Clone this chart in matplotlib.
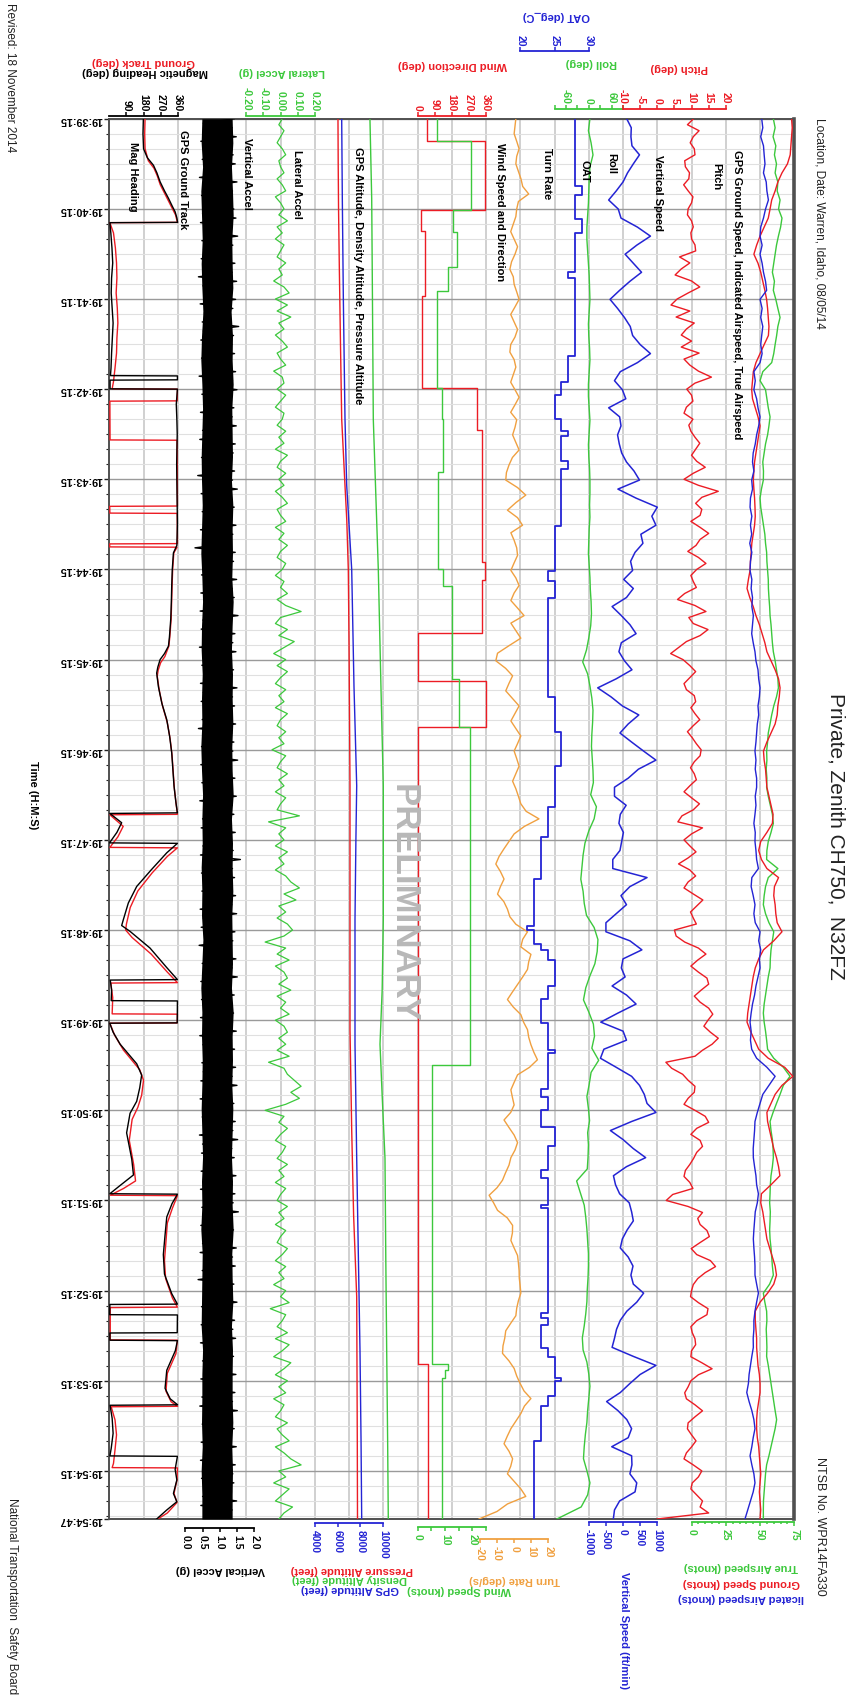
import numpy as np
import matplotlib
matplotlib.use("Agg")
import matplotlib.pyplot as plt

plt.rcParams['font.family'] = ['Liberation Sans', 'DejaVu Sans']

# ======================= DATA (time in s after 19:39:15) =======================
T_END = 932
time_labels = ['19:%02d:15' % (39 + m) for m in range(16)] + ['19:54:47']
time_ticks = [60 * m for m in range(16)] + [T_END]

# Magnetic heading (deg) and GPS ground track (deg)
mag_t = [0, 10, 20, 26, 31, 36, 42, 48, 53, 58, 62, 66, 69, 69.2, 76, 86, 96, 106, 116, 126, 136, 146, 156, 166, 171,
         171.2, 173.8, 174, 179.8, 180, 190, 200, 210, 230, 250, 270, 284, 289, 300, 311, 322, 333, 345, 351, 356, 360,
         365, 369, 378, 389, 400, 411, 422, 433, 444, 455, 462, 462.4, 468.6, 475, 482, 482.3, 488.6, 500, 511, 522,
         533, 537, 541, 552, 565, 573, 573.3, 580, 587, 587.2, 601.8, 602, 608, 616, 629, 636.5, 645, 654, 662, 675,
         692.5, 703, 710, 715.5, 715.8, 722, 731, 743, 756, 769, 782, 789, 789.2, 796, 796.2, 808, 808.2, 813, 813.3,
         820, 833, 845, 852, 856, 856.3, 865, 875, 885, 890, 890.3, 899, 906, 915, 920.5, 926, 932]
mag_v = [179, 177, 180, 200, 232, 250, 267, 290, 311, 330, 346, 355, 359, 3, 8, 14, 18, 12, 10, 15, 20, 16, 12, 9, 6,
         358, 358, 4, 4, 358, 352, 355, 357, 354, 356, 358, 355, 337, 331, 328, 326, 323, 316, 311, 290, 267,
         255, 249, 258, 276, 302, 317, 328, 334, 340, 350, 358, 3, 65, 40, 1, 358, 302, 220, 144, 100,
         74, 65, 110, 214, 302, 358, 5, 12, 10, 358, 357, 2, 20, 57, 144, 170, 160, 144, 109, 91,
         118, 127, 57, 3, 358, 330, 302, 293, 284, 290, 328, 358, 3, 2, 358, 357, 3, 3, 358,
         347, 302, 293, 320, 359, 4, 15, 20, 10, 3, 358, 346, 355, 337, 355, 302, 249]
trk_t = [0, 10, 20, 28, 33, 38, 44, 50, 55, 60, 64, 68, 69, 69.2, 76, 86, 96, 106, 116, 126, 136, 146, 156, 166, 175,
         179.8, 180, 187.8, 188, 213.8, 214, 230, 257.8, 258, 262.5, 262.7, 282.8, 283, 285, 285.2, 289, 300, 311, 333,
         345, 351, 358, 362, 367, 371, 380, 391, 402, 413, 424, 435, 446, 457, 463, 463.3, 471, 478, 485, 485.3, 491,
         502, 514, 525, 536, 540, 545, 556, 568, 575, 575.3, 585, 595.8, 596, 601.8, 602, 610, 620, 633, 640, 650, 658,
         666, 680, 696, 707, 712, 716.5, 716.8, 725, 735, 747, 760, 772, 785, 791, 791.3, 812.8, 813, 822, 835, 847,
         854, 857, 857.3, 866, 876, 886, 895, 897.8, 898, 906, 915, 921, 928, 932]
trk_v = [188, 186, 188, 205, 235, 252, 268, 292, 312, 332, 348, 356, 359, 3, 22, 32, 38, 40, 36, 42, 45, 40, 38, 30, 22,
         15, 358, 357, 3, 4, 356, 357, 358, 2, 3, 357, 358, 2, 2, 356, 339, 333, 330, 325,
         318, 313, 292, 270, 257, 252, 262, 280, 305, 320, 330, 336, 342, 352, 358, 3, 73, 45, 3, 358, 305,
         225, 150, 110, 90, 86, 120, 220, 305, 358, 8, 18, 15, 358, 357, 3, 28, 75, 160, 180, 170, 150,
         120, 105, 128, 138, 75, 5, 358, 332, 305, 298, 290, 296, 332, 358, 5, 5, 358, 350, 305, 298,
         325, 359, 10, 30, 38, 30, 22, 15, 358, 356, 340, 356, 305, 255]

# Vertical acceleration (hundredths of g), evenly spaced over the record
vacc_cg = [142, 52, 136, 58, 148, 45, 131, 55, 139, 49, 145, 60, 133, 41, 150, 54, 137, 47, 129, 57,
           141, 50, 147, 44, 134, 59, 152, 48, 138, 53, 130, 46, 144, 56, 136, 38, 149, 51, 132, 58,
           146, 43, 138, 55, 131, 49, 155, 52, 140, 45, 135, 57, 143, 47, 129, 53, 146, 40, 137, 56,
           150, 48, 133, 60, 141, 44, 136, 54, 148, 50, 132, 42, 145, 55, 139, 47, 130, 58, 143, 36,
           137, 53, 151, 46, 134, 57, 142, 49, 129, 55, 147, 44, 138, 52, 133, 28, 145, 50, 140, 58,
           131, 47, 149, 54, 136, 45, 142, 59, 135, 43, 153, 51, 130, 46, 144, 56, 138, 41, 147, 53,
           134, 48, 140, 57, 132, 44, 150, 52, 137, 46, 143, 55, 129, 49, 146, 38, 135, 58, 141, 47,
           138, 53, 152, 45, 133, 56, 144, 48, 130, 54, 148, 42, 136, 59, 141, 50, 131, 46, 145, 57,
           134, 51, 139, 44, 160, 53, 137, 47, 143, 55, 130, 48, 146, 57, 135, 43, 149, 52, 132, 46,
           144, 58, 138, 40, 133, 54, 147, 49, 136, 56, 151, 45, 131, 53, 142, 47, 135, 59, 140, 44,
           137, 55, 148, 42, 134, 51, 143, 57, 129, 48, 146, 52, 136, 45, 150, 56, 132, 43, 141, 54,
           133, 49, 145, 58, 138, 41, 152, 50, 135, 47, 142, 56, 130, 46, 147, 53, 136, 44, 144, 59,
           139, 48, 154, 52, 131, 45, 140, 57, 134, 50, 148, 43, 137, 55, 145, 49, 133, 37, 141, 54,
           135, 58, 150, 47, 132, 52, 143, 46, 138, 56, 146, 44, 134, 57, 140, 50, 129, 53, 147, 45,
           131, 59, 144, 48, 137, 42, 151, 55, 136, 49, 142, 53, 133, 46, 148, 57, 130, 44, 145, 51,
           138, 47, 141, 56, 134, 50, 149, 45, 136, 55, 100]
# solid core of the vertical-accel band (hundredths of g), evenly spaced
vacc_core_lo = [48, 46, 50, 45, 47, 49, 46, 48, 51, 47, 45, 48, 50, 48, 46, 47, 49, 47, 45, 48,
                50, 47, 46, 49, 47, 48, 45, 47, 50, 48, 49, 46, 48, 47, 51, 48, 45, 48, 47, 49,
                48, 46, 48, 50, 47, 48, 45, 49, 48, 47, 46, 50, 48, 48, 47, 49, 46, 48, 48]
vacc_core_hi = [136, 138, 134, 137, 139, 135, 136, 138, 133, 137, 136, 139, 135, 136, 137, 134, 138, 136, 137, 135,
                139, 136, 134, 137, 136, 138, 135, 136, 139, 134, 137, 136, 138, 135, 136, 137, 134, 139, 136, 137,
                135, 138, 136, 134, 137, 136, 139, 135, 136, 138, 134, 137, 136, 136, 138, 135, 137, 136, 136]

# Lateral acceleration (hundredths of g), every 4 s
lat_cg = [1, -1, 2, 0, -2, 1, 3, -1, 0, 2, -2, 1, 3, -3, 0, 2, -1, 4, -2, 1,
          -3, 2, 0, -2, 3, -1, 1, -4, 2, 5, -3, 4, -2, 6, -1, 2, -3, 1, 4, -2,
          0, 3, -4, 1, 2, -2, 3, 0, -3, 2, 1, -2, 3, -1, 2, -3, 4, 0, -2, 3,
          -1, 2, -3, 1, 4, -2, 0, 3, -3, 2, -1, 4, 0, -2, 3, 1, -3, 2, 0, 4,
          -2, 3, 12, 0, -3, 4, -1, 8, 2, -4, 3, -2, 4, 0, -3, 3, -1, 2, -3, 4,
          0, -2, 3, -1, 2, -5, 3, 0, -2, 4, -1, 2, -3, 3, 0, -2, 11, -7, 3, -1,
          2, -3, 4, -1, 2, -3, 3, 6, 11, 2, 9, -1, 3, -2, 4, 7, 2, -9, 3, -2,
          5, -3, 2, 4, -1, 6, -2, 3, 0, 5, -3, 2, 4, -1, 3, -2, 5, -7, 2, 4,
          8, 12, 6, 11, 3, -9, 2, -1, 4, 0, -3, 3, 1, -2, 4, -1, 2, -3, 3, 0,
          -2, 4, -1, 2, -3, 3, 0, -2, 4, 1, -3, 3, -1, 2, -4, 3, 0, 5, -6, 3,
          1, -2, 4, -3, 5, 1, -4, 6, 2, -3, 4, -1, 3, -4, 2, 0, -3, 4, -2, 1,
          5, -3, 2, 6, 12, -1, 3, -4, 5, 1, -3, 7, 2, -1]

# Altitudes (feet)
press_t = [0, 30, 60, 100, 150, 200, 245, 267, 300, 350, 444, 533, 606, 673, 730, 784, 881, 932]
press_ft = [6030, 6050, 6080, 6150, 6250, 6356, 6650, 6800, 6934, 7000, 7083, 7083, 7083, 7232, 7400, 7670, 7722, 7740]
gps_t = [0, 53, 120, 200, 244, 300, 378, 444, 480, 533, 616, 692, 750, 820, 880, 932]
gps_ft = [6356, 6410, 6500, 6645, 6794, 7232, 7433, 7670, 7600, 7521, 7521, 7670, 7800, 7959, 8050, 8108]
dens_t = [0, 53, 120, 200, 300, 380, 444, 533, 580, 616, 650, 692, 760, 820, 880, 932]
dens_ft = [8830, 8984, 9050, 9124, 9562, 9800, 10000, 10000, 9900, 9711, 9900, 10148, 10220, 10297, 10380, 10437]

# Wind direction (deg) and wind speed (knots), step values from each time on
wdir_t = [0, 14.6, 61, 74.5, 118, 179, 207, 295, 307, 342, 374, 405, 829, 932]
wdir_deg = [48, 355, 18, 37, 22, 311, 337, 354, 337, 4, 360, 4, 55, 55]
wspd_t = [0, 14.6, 61, 75.7, 99, 115, 179, 200, 235, 300, 311, 373, 405, 630, 829, 833, 838, 932]
wspd_kt = [7, 19.5, 13, 14.3, 11.2, 7, 8.8, 9.4, 7.6, 9.4, 12.5, 15.3, 19.2, 5.2, 11.2, 10, 8.8, 8.2]

# Turn rate (deg/s), every ~5 s
turn_dps = [1, 0.5, 0, 1.5, 2.9, 1.5, 1, 2.5, 4, 5, 8.5, 2.5, 1.5, 1, -0.5, -2, 0, 2, 0.5, -1.5,
            -2.5, -0.5, 0, 1.5, 2.9, 0.5, -2, 0, 2, 0.5, -2, -2.5, 0, 1, -0.5, -2, 0.5, 2.9, 0.5, -2,
            1.5, 0.5, -0.9, 1, 2.9, -1, -3, -4.5, -4.9, 2, 6.8, 1, -3.9, 2, 4.9, -1.9, 0, 1.5, 2, 0,
            -1.9, 1, 2.9, 0, -1.9, 2, 5.8, -1.9, 1, 3.9, -3, -9.7, -10.7, -5, -0.9, -3, -4.9, -1, 2.9, 0.5,
            -1.9, 1, 3.9, 2, 0, 1.5, 2.9, 1, -0.9, 1, 2.5, 3.9, 7, 14.5, 6, 0, -3, -6, -8.8, -10.7,
            -8, -5.9, -8, -9.7, -6, -3.9, -2.5, 1, 7.8, 5, 3.9, 9.8, 8.5, 7.8, 5, 2, -1, -3.9, -0.5, 3.9,
            5.5, 7.8, 8.5, 9.8, 11.5, 13.6, 9, 2, 0, -1.9, -1, 0, -2, -5.9, -3, 0, 2, 0.5, -1.9, -3,
            -5, -6.8, -10, -14.6, -12, -9.7, -4, -0.9, -1, -1.9, 0, 2, 2.5, 2.9, 3, 3.5, 3.9, 2.5, 1.5, 1,
            -2, -4.9, -5.5, -6.5, -6.8, -3, 0, 1.5, 3.5, 5.8, 9.8, 6, 3.9, 1, -1.9, -4, -5.9, -3, -0.9, -2,
            -3.9, 0, 3.9, 6.8, -3.9, -10, -20.5]

# Outside air temperature (deg C), step values from each time on
oat_t = [0, 45, 51, 67, 76, 102, 106, 158, 175, 184, 200, 207.8, 211, 227.7, 233.3, 271, 290, 301, 308, 319,
         385, 408, 431, 458, 478, 506, 537, 540, 549, 553, 560, 577, 586, 602, 620, 622, 646, 651, 660, 671,
         684, 700, 705, 723, 725, 795, 798, 803, 818, 824, 838, 840, 850, 857, 880, 932]
oat_c = [28, 29, 28, 29, 28, 27, 28, 27, 26, 25, 26, 27, 26, 27, 26, 25, 25, 24, 25, 24,
         25, 26, 25, 24, 23, 22, 21, 22, 23, 24, 25, 24, 23, 24, 25, 24, 23, 24, 23, 25,
         24, 23, 24, 23, 24, 23, 24, 23, 24, 25, 26, 25, 24, 23, 22, 22]

# Roll (deg), every ~8 s
roll_deg = [3, -1, 6, 11, 3, 1, 0, -1, -3, -5, -5, -3, -1, 1, 2, 3, 1, -1, 0, 2,
            3, 1, -1, -1, 1, 3, 1, -1, 0, 2, 3, 3, 2, 3, 1, 0, -1, 1, 3, 4,
            6, 7, 5, 0, -6, -16, -3, 3, 8, 11, 10, 8, 7, 9, 11, 12, 5, 20, 14, 0,
            -10, -15, -18, -21, -15, -12, -6, 14, 24, 22, 16, 3, -8, -14, 0, 12, 15, 8, 26, 6,
            1, -5, -1, 2, -3, -1, -2, -4, -32, -22, -12, -8, -5, -3, -1, -1, -2, -4, -5, -8,
            -12, -17, -15, -5, 0, 3, 0, -3, -5, -9, -12, -14, -5, 3, -3, -20, -84]

# Vertical speed (ft/min), every ~6 s
vspd_fpm = [106, 240, 230, 260, 480, 300, 130, 0, -200, -420, -140, -60, 420, 800, 400, 60, 300, 540, 200, -100,
            -380, -160, 40, 210, 280, 500, 800, 420, -80, -250, -20, 80, -420, -100, -60, -160, -110, -40, 100, 320,
            480, -150, 380, 1000, 840, 960, 520, 580, 350, 220, 280, 20, 300, 100, -320, -50, 200, 380, -50, -120,
            40, 260, -200, -740, -350, -20, 460, 150, -90, 250, 600, 960, 450, 150, -250, -250, 90, -80, -120, 10,
            -40, -90, -300, -300, 700, 200, -60, 100, -200, -500, -500, 200, 550, 0, -50, 60, -320, 100, 380, -150,
            -650, 0, 100, -560, -660, -200, 250, 480, 620, 700, 960, 250, -370, 0, 300, 660, 100, -280, -220, -100,
            180, 250, 300, 120, -20, -80, 150, 290, 230, 300, 600, 400, 110, -80, -190, -250, -320, 300, 960, 500,
            200, -80, -480, -150, 110, 250, 150, -330, 250, 260, 200, 400, 350, -100, -250, -284]

# Pitch (deg), every 4 s
pitch_deg = [10.6, 8.8, 12.2, 10.5, 9.6, 10.8, 11.0, 8.0, 8.2, 9.4, 9.2, 7.7, 9.0, 10.4, 10.0, 9.0, 8.8, 10.0, 10.5, 9.8,
             10.0, 11.0, 11.2, 6.5, 9.5, 7.0, 5.2, 10.0, 12.4, 9.0, 5.8, 4.0, 9.5, 5.5, 10.8, 8.5, 7.0, 10.0, 7.0, 12.2,
             7.8, 9.5, 12.0, 15.8, 11.0, 8.6, 10.0, 10.4, 8.5, 7.8,
             10.4, 9.2, 9.8, 11.0, 12.4, 11.2, 10.0, 11.5, 14.0, 10.5, 7.8, 12.0, 17.8, 13.0, 11.2, 13.0, 12.5, 9.8, 12.5, 15.0,
             12.5, 11.3, 8.9, 12.0, 14.2, 11.5, 9.8, 10.5, 11.4, 8.0, 5.9, 11.0, 14.2, 9.2, 10.5, 14.8, 12.5, 8.5, 6.2, 3.9,
             7.5, 9.5, 11.2, 9.5, 7.8, 8.5, 10.8, 11.2, 9.8, 11.0,
             12.4, 10.5, 8.8, 10.2, 11.4, 12.8, 12.5, 10.8, 9.7, 10.8, 11.4, 9.5, 7.8, 10.0, 12.3, 10.5, 7.2, 6.0, 13.2, 10.0,
             7.8, 9.5, 11.3, 9.0, 6.2, 9.5, 11.2, 9.0, 7.8, 10.5, 13.3, 11.5, 9.7, 10.5, 11.4,
             5.0, 5.5, 8.0, 12.0, 14.2, 11.8, 9.8, 12.0, 14.5, 15.0, 12.8, 10.8, 12.5, 15.0, 16.2, 14.8, 13.6, 15.5, 17.8, 16.0,
             13.2, 11.0, 2.5, 4.2, 7.4, 9.0, 11.0, 10.8, 9.0, 7.8, 11.0, 14.0, 15.0, 11.5, 9.8, 12.5, 13.2, 11.5, 10.6, 9.5,
             8.2, 7.8, 9.5, 10.4, 4.5, 2.6, 9.0, 13.2, 11.8, 12.5,
             14.5, 15.2, 12.5, 9.9, 11.5, 15.5, 17.0, 14.0, 11.8, 10.5, 10.0, 9.7, 12.0, 14.8, 14.5, 11.5, 9.8, 10.2, 11.0, 11.2,
             10.0, 9.8, 13.0, 16.0, 12.0, 9.8, 9.0, 8.0, 8.5, 11.0, 13.2, 11.0, 9.0, 8.8, 10.0, 11.3, 10.0, 8.5, 7.8, 10.5,
             13.0, 12.0, 10.2, 9.8, 11.5, 13.2, 12.5, 15.0, 0.0]

# Speeds (knots), every ~6 s
ias_kt = [51.2, 52.0, 50.5, 52.5, 53.0, 53.6, 52.5, 54.5, 55.0, 56.1, 54.0, 52.5, 50.5, 50.0, 51.5, 50.0, 51.5, 52.5, 54.0, 54.8,
          50.0, 51.5, 50.5, 52.0, 51.2, 50.5, 51.5, 50.0, 45.5, 46.5, 45.5, 47.5, 48.5, 50.0, 49.0, 47.5, 46.5, 45.0, 44.5, 45.5,
          43.9, 44.5, 43.0, 42.7, 44.0, 43.0, 43.9, 42.5, 44.0, 43.0, 42.7, 44.0, 43.5, 44.5, 44.0, 45.1, 44.5, 43.9, 45.0, 46.3,
          47.0, 48.5, 49.0, 50.0, 49.5, 48.5, 49.0, 48.0, 47.5, 47.0, 46.3, 47.0, 46.5, 47.5, 47.5, 46.5, 47.0, 46.3, 45.5, 46.5,
          46.3, 47.0, 47.5, 48.8, 44.0, 43.5, 45.0, 46.3, 45.5, 46.5, 50.0, 49.0, 50.5, 49.5, 50.0, 48.5, 47.0, 46.0, 44.5, 43.5,
          42.7, 43.5, 43.0, 43.9, 47.5, 55.0, 61.0, 56.5, 52.0, 50.0, 48.0, 46.3, 46.0, 45.5, 45.0, 45.1, 46.0, 47.0, 47.5, 48.8,
          48.0, 46.5, 46.0, 45.5, 45.1, 45.5, 46.0, 46.3, 46.3, 47.5, 48.8, 47.5, 46.3, 45.5, 45.5, 45.0, 45.1, 44.0, 43.0, 42.0,
          41.5, 40.3, 42.0, 44.0, 45.5, 46.3, 45.0, 44.0, 42.7, 44.0, 45.5, 46.3, 45.0, 43.0, 41.0, 39.0]
gs_kt = [73.0, 73.5, 73.0, 72.5, 72.0, 70.0, 66.0, 63.0, 61.0, 58.5, 57.3, 56.0, 53.0, 50.0, 47.5, 45.5, 48.5, 50.5, 52.0, 53.5,
         54.8, 55.5, 56.0, 56.5, 56.1, 53.0, 50.0, 47.0, 45.1, 44.5, 43.9, 44.5, 46.5, 48.5, 50.0, 49.0, 48.0, 47.0, 46.0, 45.5,
         45.1, 45.5, 46.0, 46.3, 46.5, 46.0, 45.0, 44.0, 43.5, 43.0, 42.7, 41.5, 40.5, 42.5, 45.0, 47.0, 49.5, 51.5, 53.5, 55.0,
         58.0, 61.0, 63.5, 64.6, 64.0, 63.0, 62.5, 61.0, 58.0, 55.0, 52.5, 53.0, 54.0, 54.5, 55.0, 56.5, 58.0, 59.5, 59.0, 55.0,
         50.5, 49.0, 51.0, 55.0, 63.5, 60.5, 60.0, 61.0, 61.5, 62.5, 66.0, 60.0, 52.5, 49.0, 46.5, 45.0, 44.0, 43.0, 42.0, 41.0,
         40.5, 43.0, 46.0, 49.0, 56.0, 68.0, 74.0, 66.0, 61.0, 58.0, 55.0, 55.5, 57.0, 58.5, 60.0, 62.0, 63.5, 64.5, 58.0, 51.0,
         50.5, 52.0, 53.0, 54.0, 55.0, 57.0, 59.0, 61.0, 62.0, 60.0, 55.5, 50.0, 46.5, 46.5, 47.0, 47.5, 47.5, 48.0, 48.5, 49.5,
         50.0, 50.0, 49.0, 48.0, 47.5, 47.5, 48.0, 49.0, 49.5, 50.0, 50.5, 50.0, 49.5, 50.0, 50.5, 50.0]
tas_kt = [59.7, 61.0, 59.5, 61.5, 60.5, 62.0, 61.0, 63.0, 62.5, 64.6, 63.5, 66.0, 65.0, 63.4, 62.0, 61.0, 60.0, 59.0, 60.5, 59.7,
          61.5, 63.0, 64.6, 63.0, 62.1, 61.0, 60.0, 58.5, 52.0, 50.0, 54.0, 55.0, 56.0, 57.3, 56.5, 55.5, 54.0, 53.0, 52.0, 52.5,
          52.4, 51.0, 50.0, 50.5, 51.5, 52.5, 53.5, 54.0, 54.8, 55.0, 55.5, 56.0, 56.1, 56.5, 57.0, 57.3, 58.0, 58.5, 59.0, 59.7,
          61.0, 62.0, 63.0, 63.4, 62.0, 60.0, 58.5, 57.3, 56.0, 55.5, 54.8, 55.0, 54.5, 55.0, 54.8, 56.0, 57.5, 59.0, 59.7, 58.0,
          56.0, 55.0, 54.8, 63.0, 56.0, 54.0, 53.0, 52.4, 54.0, 56.5, 60.0, 59.0, 58.0, 57.5, 57.3, 56.0, 55.0, 54.0, 53.0, 52.4,
          53.0, 54.0, 54.8, 55.5, 60.0, 67.0, 71.9, 67.0, 64.6, 62.0, 59.5, 57.3, 58.0, 59.0, 59.5, 59.7, 59.0, 58.0, 57.5, 57.3,
          57.0, 57.5, 57.3, 57.0, 57.3, 58.0, 58.5, 59.0, 59.7, 57.0, 52.4, 53.5, 54.8, 55.0, 54.5, 54.8, 55.0, 54.8, 56.0, 57.0,
          58.0, 59.0, 60.0, 61.0, 62.1, 61.0, 59.5, 58.0, 56.5, 54.8, 54.0, 53.5, 53.0, 52.5, 52.4, 52.4]

# ======================= LAYOUT =======================
W, H = 854, 1699
fig = plt.figure(figsize=(W / 100, H / 100), dpi=100)
fig.patch.set_facecolor('white')
X0, X1, Y0, Y1 = 109.3, 794.3, 119.7, 1520.0
RECT = [X0 / W, 1 - Y1 / H, (X1 - X0) / W, (Y1 - Y0) / H]
NC = 20
PT = 0.72

RED = '#ec1c24'
GREEN = '#3cc83c'
BLUE = '#2424d4'
ORANGE = '#f0a040'
BLACK = '#000000'


def ftext(x, y, s, **kw):
    fig.text(x / W, 1 - y / H, s, **kw)


# base axes: frame, grid, time axis
ax0 = fig.add_axes(RECT)
ax0.set_xlim(0, NC)
ax0.set_ylim(T_END, 0)
ax0.set_xticks(np.arange(NC + 1))
ax0.tick_params(axis='x', which='both', length=0, labelbottom=False, labeltop=False)
ax0.xaxis.grid(True, color='#c4c4c4', lw=1.1)
ax0.set_yticks(time_ticks)
ax0.set_yticklabels(time_labels)
for lab in ax0.get_yticklabels():
    lab.set_rotation(180)
    lab.set_fontweight('bold')
    lab.set_fontsize(7.8)
    lab.set_va('center')
ax0.set_yticks(np.arange(0, T_END, 10), minor=True)
ax0.yaxis.grid(True, which='major', color='#9a9a9a', lw=1.0)
ax0.yaxis.grid(True, which='minor', color='#e0e0e0', lw=0.8)
ax0.tick_params(axis='y', which='major', length=5 * PT, width=1.0, pad=1.5, color='#222222')
ax0.tick_params(axis='y', which='minor', length=3 * PT, width=0.8, color='#222222')
for sp in ax0.spines.values():
    sp.set_color('#505050')
    sp.set_linewidth(1.4)
ax0.spines['right'].set_linewidth(2.6)
ax0.set_axisbelow(True)


def overlay(vlo, vhi, glo, ghi):
    ax = fig.add_axes(RECT)
    ax.patch.set_visible(False)
    s = (vhi - vlo) / (ghi - glo)
    ax.set_xlim(vlo - glo * s, vlo + (NC - glo) * s)
    ax.set_ylim(T_END, 0)
    for sp in ax.spines.values():
        sp.set_visible(False)
    ax.yaxis.set_visible(False)
    ax.set_xticks([])
    return ax


def bracket(ax, side, lo, hi, ticks, labels, color, off_px, minor=None):
    sp = ax.spines[side]
    sp.set_visible(True)
    sp.set_bounds(lo, hi)
    sp.set_color(color)
    sp.set_linewidth(1.3)
    sp.set_position(('outward', off_px * PT))
    ax.xaxis.set_ticks_position(side)
    ax.set_xticks(ticks)
    ax.set_xticklabels(labels, fontweight='bold')
    if minor is not None:
        ax.set_xticks(minor, minor=True)
    top = side == 'top'
    ax.tick_params(axis='x', which='both', direction='out', color=color, labelcolor=color, width=1.1,
                   labelsize=7.5, labelrotation=-90, pad=1.5, top=top, bottom=not top,
                   labeltop=top, labelbottom=not top)
    ax.tick_params(axis='x', which='major', length=4 * PT)
    ax.tick_params(axis='x', which='minor', length=2.5 * PT)


def even_t(vals):
    return np.linspace(0, T_END, len(vals))


# ---- heading
ax = overlay(0, 360, 0, 2)
bracket(ax, 'top', 0, 360, [90, 180, 270, 360], ['90', '180', '270', '360'], BLACK, 2.4)
ax.plot(trk_v, trk_t, color=RED, lw=1.0)
ax.plot(mag_v, mag_t, color=BLACK, lw=1.0)

# ---- vertical accel
ax = overlay(0.0, 2.0, 2.22, 4.23)
bracket(ax, 'bottom', 0, 2, [0, 0.5, 1, 1.5, 2], ['0.0', '0.5', '1.0', '1.5', '2.0'], BLACK, 9.3)
ax.fill_betweenx(even_t(vacc_core_lo), np.array(vacc_core_lo) / 100, np.array(vacc_core_hi) / 100,
                 color=BLACK, lw=0)
ax.plot(np.array(vacc_cg) / 100, even_t(vacc_cg), color=BLACK, lw=1.0)

# ---- lateral accel
ax = overlay(-0.2, 0.2, 4, 6)
bracket(ax, 'top', -0.2, 0.2, [-0.2, -0.1, 0, 0.1, 0.2], ['-0.20', '-0.10', '0.00', '0.10', '0.20'], GREEN, 2.7)
ax.plot(np.array(lat_cg) / 100, even_t(lat_cg), color=GREEN, lw=0.9)

# ---- altitudes
ax = overlay(4000, 10000, 6, 8)
bracket(ax, 'bottom', 4000, 10000, [4000, 6000, 8000, 10000], ['4000', '6000', '8000', '10000'], BLUE, 4)
ax.plot(dens_ft, dens_t, color=GREEN, lw=1.0)
ax.plot(press_ft, press_t, color=RED, lw=1.0)
ax.plot(gps_ft, gps_t, color=BLUE, lw=1.0)

# ---- wind direction / speed
ax = overlay(0, 360, 9, 11)
bracket(ax, 'top', 0, 360, [0, 90, 180, 270, 360], ['0', '90', '180', '270', '360'], RED, 2.7)
ax.plot(wdir_deg, wdir_t, color=RED, lw=1.0, drawstyle='steps-pre')
ax = overlay(0, 25, 9, 11)
bracket(ax, 'bottom', 0, 25, [0, 5, 10, 15, 20, 25], ['0', '', '10', '', '20', ''], GREEN, 8.3)
ax.plot(wspd_kt, wspd_t, color=GREEN, lw=1.0, drawstyle='steps-pre')

# ---- turn rate
ax = overlay(-20, 20, 10.82, 12.82)
bracket(ax, 'bottom', -20, 20, [-20, -10, 0, 10, 20], ['-20', '-10', '0', '10', '20'], ORANGE, 20)
ax.plot(turn_dps, even_t(turn_dps), color=ORANGE, lw=1.0)

# ---- OAT
ax = overlay(20, 30, 12, 14)
bracket(ax, 'top', 20, 30, [20, 25, 30], ['20', '25', '30'], BLUE, 67.4)
ax.plot(oat_c, oat_t, color=BLUE, lw=1.3, drawstyle='steps-pre')

# ---- roll
ax = overlay(-90, 90, 13, 15)
bracket(ax, 'top', -90, 90, [-90, -60, -30, 0, 30, 60, 90], ['', '-60', '', '0', '', '60', ''], GREEN, 9.7)
ax.plot(roll_deg, even_t(roll_deg), color=GREEN, lw=1.0)

# ---- vertical speed
ax = overlay(-1000, 1000, 14, 16)
bracket(ax, 'bottom', -1000, 1000, [-1000, -500, 0, 500, 1000], ['-1000', '-500', '0', '500', '1000'], BLUE, 3.3)
ax.plot(vspd_fpm, even_t(vspd_fpm), color=BLUE, lw=1.1)

# ---- pitch
ax = overlay(-10, 20, 15, 18)
bracket(ax, 'top', -10, 20, [-10, -5, 0, 5, 10, 15, 20], ['-10', '-5', '0', '5', '10', '15', '20'], RED, 9.7)
ax.plot(pitch_deg, even_t(pitch_deg), color=RED, lw=1.0)

# ---- speeds
ax = overlay(0, 75, 17, 20)
bracket(ax, 'bottom', 0, 75, [0, 25, 50, 75], ['0', '25', '50', '75'], GREEN, 2.7, minor=np.arange(0, 76, 5))
ax.plot(tas_kt, even_t(tas_kt), color=GREEN, lw=1.0)
ax.plot(gs_kt, even_t(gs_kt), color=RED, lw=1.0)
ax.plot(ias_kt, even_t(ias_kt), color=BLUE, lw=1.0)

# ======================= TEXT =======================
B = dict(fontweight='bold', fontsize=8)
ftext(144, 62, 'Ground Track (deg)', color=RED, rotation=180, ha='center', va='center', **B)
ftext(145, 72, 'Magnetic Heading (deg)', color=BLACK, rotation=180, ha='center', va='center', **B)
ftext(282, 72, 'Lateral Accel (g)', color=GREEN, rotation=180, ha='center', va='center', **B)
ftext(453, 65, 'Wind Direction (deg)', color=RED, rotation=180, ha='center', va='center', **B)
ftext(591, 63, 'Roll (deg)', color=GREEN, rotation=180, ha='center', va='center', **B)
ftext(679, 68, 'Pitch (deg)', color=RED, rotation=180, ha='center', va='center', **B)
ftext(556, 16, 'OAT (deg_C)', color=BLUE, rotation=180, ha='center', va='center', **B)
ftext(220, 1570, 'Vertical Accel (g)', color=BLACK, rotation=180, ha='center', va='center', **B)
ftext(350, 1579, 'Density Altitude (feet)', color=GREEN, rotation=180, ha='center', va='center', **B)
ftext(352, 1570, 'Pressure Altitude (feet)', color=RED, rotation=180, ha='center', va='center', **B)
ftext(350, 1589, 'GPS Altitude (feet)', color=BLUE, rotation=180, ha='center', va='center', **B)
ftext(459, 1590, 'Wind Speed (knots)', color=GREEN, rotation=180, ha='center', va='center', **B)
ftext(515, 1580, 'Turn Rate (deg/s)', color=ORANGE, rotation=180, ha='center', va='center', **B)
ftext(624, 1572, 'Vertical Speed (ft/min)', color=BLUE, rotation=-90, ha='center', va='top', **B)
ftext(741, 1567, 'True Airspeed (knots)', color=GREEN, rotation=180, ha='center', va='center', **B)
ftext(741, 1583, 'Ground Speed (knots)', color=RED, rotation=180, ha='center', va='center', **B)
ftext(741, 1598, 'licated Airspeed (knots)', color=BLUE, rotation=180, ha='center', va='center', **B)

for s, x, y in [('Mag Heading', 132.7, 141.7), ('GPS Ground Track', 183.3, 130), ('Vertical Accel', 246.7, 138),
                ('Lateral Accel', 296.7, 150),
                ('GPS Altitude, Density Altitude, Pressure Altitude', 358.3, 146.7),
                ('Wind Speed and Direction', 500, 143), ('Turn Rate', 546.7, 148), ('OAT', 585, 160),
                ('Roll', 611.7, 153), ('Vertical Speed', 658.3, 155), ('Pitch', 716, 163),
                ('GPS Ground Speed, Indicated Airspeed, True Airspeed', 736.7, 150)]:
    ftext(x, y, s, color=BLACK, rotation=-90, ha='center', va='top', **B)

ftext(403, 903, 'PRELIMINARY', color='#b8b8b8', rotation=-90, ha='center', va='center',
      fontsize=25, fontweight='bold')
ftext(33, 795, 'Time (H:M:S)', color=BLACK, rotation=-90, ha='center', va='center', **B)
ftext(9.5, 3, 'Revised: 18 November 2014', color='#222222', rotation=-90, ha='center', va='top', fontsize=8.5)
ftext(12, 1498, 'National Transportation  Safety Board', color='#222222', rotation=-90, ha='center', va='top',
      fontsize=8.5)
ftext(820, 118, 'Location, Date: Warren, Idaho, 08/05/14', color='#222222', rotation=-90, ha='center', va='top',
      fontsize=8.6)
ftext(836, 836, 'Private, Zenith CH750,  N32FZ', color='#222222', rotation=-90, ha='center', va='center',
      fontsize=15)
ftext(820, 1457, 'NTSB No. WPR14FA330', color='#222222', rotation=-90, ha='center', va='top', fontsize=9)

fig.savefig('out.png', dpi=100)
